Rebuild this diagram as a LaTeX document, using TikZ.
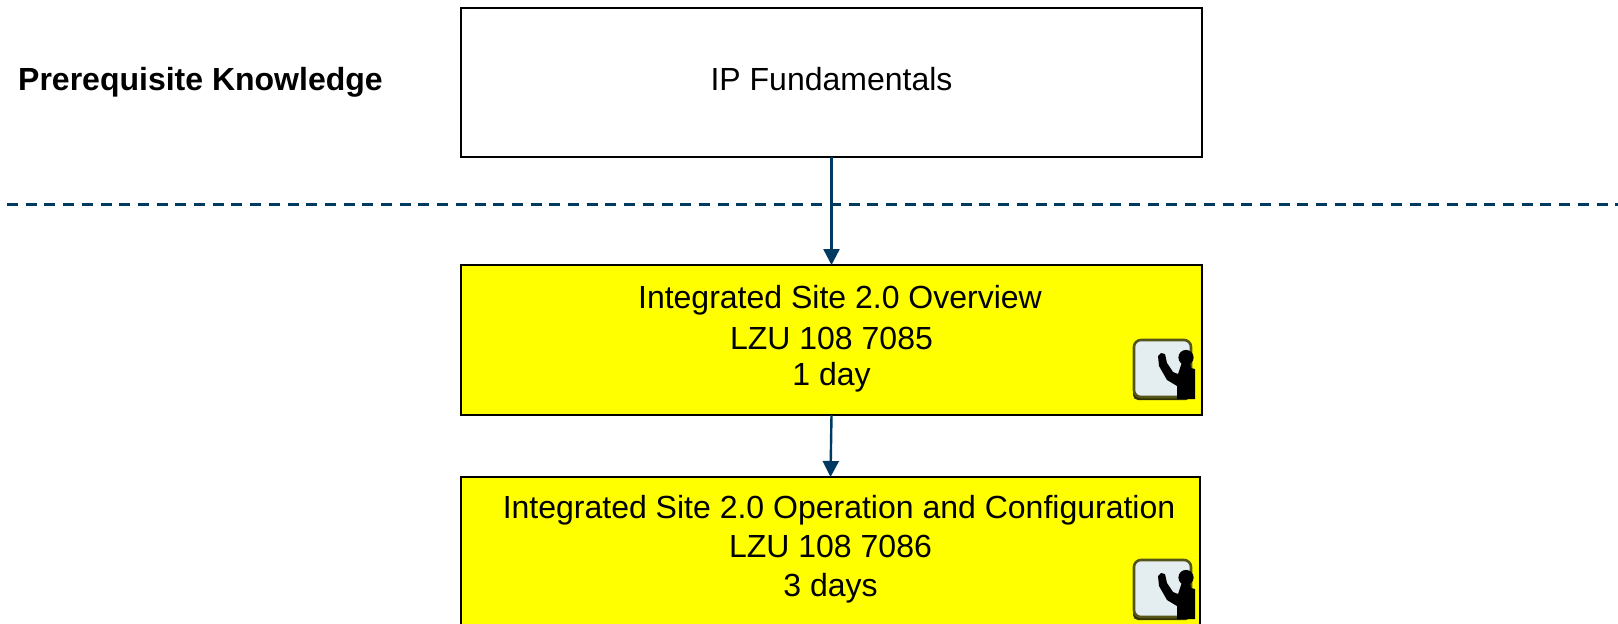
\documentclass[tikz,border=0pt]{standalone}
\usepackage{fontspec}
\setmainfont{Liberation Sans}
\usetikzlibrary{arrows.meta}
\definecolor{navy}{HTML}{003A63}
\definecolor{board}{HTML}{E4EDEF}
\definecolor{rim}{HTML}{55551A}
\definecolor{courseyellow}{HTML}{FFFF00}
\tikzset{
  x=1pt,y=-1pt,
  every node/.style={font=\fontsize{32}{39}\selectfont,text=black},
  box/.style={draw=black,line width=2.4pt,inner sep=0pt,outer sep=0pt,anchor=north west},
  course/.style={box,fill=courseyellow},
  caption/.style={align=center,inner sep=0pt},
  link/.style={draw=navy,line width=2.4pt,-{Triangle[length=16pt,width=16pt]}},
  trainer/.pic={
    \fill[black!80!courseyellow,rounded corners=5pt] (1133,344) rectangle (1191,400);
    \draw[rim,line width=2.6pt,fill=board,rounded corners=7pt] (1134,340) rectangle (1191,397);
    \fill[black] (1186,357.5) circle[radius=7.6];
    \fill[black] (1182,362) -- (1190,362) -- (1191,368) -- (1195,369) -- (1195,399) -- (1177,399) -- (1177,386) -- (1167,380)
      -- (1159,366) -- (1158,356) -- (1161,353) -- (1165,354) -- (1167,363) -- (1173,372) -- (1178,374) -- cycle;
  }
}
\begin{document}
\begin{tikzpicture}
\useasboundingbox (0,0) rectangle (1618,624);
\fill[white] (0,0) rectangle (1618,624);
\coordinate (dashL) at (7,204);
\coordinate (dashR) at (1618,204);
\draw[navy,line width=3pt,dash pattern=on 11pt off 7.7pt] (dashL) -- (dashR);
\node[font=\fontsize{32}{39}\selectfont\bfseries,anchor=west,inner sep=0pt] (pre) at (18,82) {Prerequisite Knowledge};
\node[box,fill=white,minimum width=741pt,minimum height=149pt] (a) at (461,8) {};
\node[caption] (atext) at (831.5,79) {IP Fundamentals};
\node[course,minimum width=741pt,minimum height=150pt] (b) at (461,265) {};
\node[caption] (btext) at (831.5,338.5) {\hspace*{17pt}Integrated Site 2.0 Overview\\[2pt]LZU 108 7085\\[-3pt]1 day};
\node[course,minimum width=739pt,minimum height=170pt] (c) at (461,477) {};
\node[caption] (ctext) at (830.5,549) {\hspace*{17pt}Integrated Site 2.0 Operation and Configuration\\LZU 108 7086\\3 days};
\draw[link] (a.south) -- (b.north);
\draw[link] (b.south) -- (c.north);
\pic at (0,0) {trainer};
\pic at (0,220) {trainer};
\end{tikzpicture}
\end{document}
